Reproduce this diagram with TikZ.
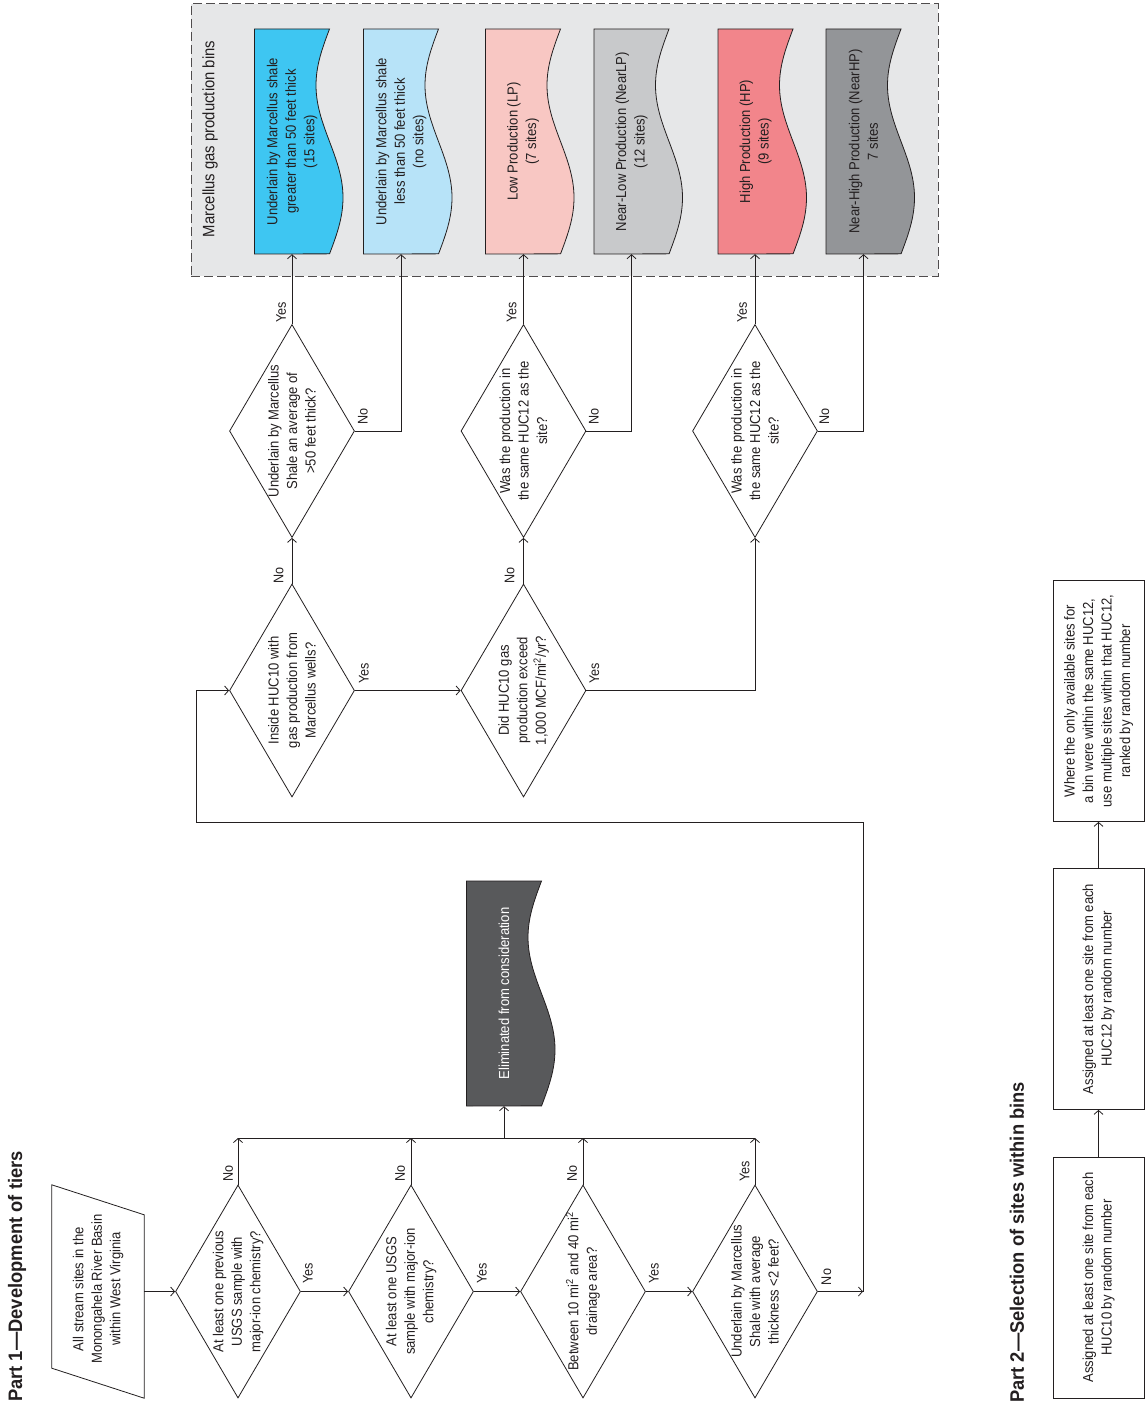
\documentclass[tikz,border=0pt]{standalone}
\usepackage{fontspec}
\setmainfont[FakeStretch=0.9]{Liberation Sans}
\newfontfamily\titlefont[FakeStretch=0.94]{Liberation Sans}
\usetikzlibrary{arrows.meta,shapes.geometric,calc}
\definecolor{ink}{HTML}{231F20}
\definecolor{panelgrey}{HTML}{E6E7E8}
\definecolor{cyanbin}{HTML}{3EC6F2}
\definecolor{lightbluebin}{HTML}{B7E3F8}
\definecolor{pinkbin}{HTML}{F8C7C3}
\definecolor{lgreybin}{HTML}{C8C9CB}
\definecolor{redbin}{HTML}{F2858B}
\definecolor{dgreybin}{HTML}{939598}
\definecolor{elimgrey}{HTML}{58595B}
\newcommand{\docshape}[3]{%
  \filldraw[shapeline, fill=#3] ({#1-37.5},{#2+112.5}) -- ({#1-37.5},{#2-112.5}) -- ({#1+37.5},{#2-112.5})
    -- plot[domain=0:1, samples=60] ({#1+37.5-13.5*sin(360*\x)},{#2-112.5+225*\x}) -- cycle;}
\tikzset{
  shapeline/.style={draw=ink, line width=0.8pt},
  conn/.style={draw=ink, line width=0.8pt},
  arr/.style={conn, -{Straight Barb[length=4pt,width=9pt]}},
  dia/.style={diamond, draw=ink, line width=0.8pt, minimum width=125pt, minimum height=213pt, inner sep=0pt},
  holder/.style={rectangle, draw=none, inner sep=0pt, minimum width=75pt, minimum height=225pt},
  txt/.style={rotate=90, align=center, inner sep=0pt, text=ink, font=\fontsize{14.5}{18.5}\selectfont},
  lbl/.style={rotate=90, inner sep=0pt, text=ink, font=\fontsize{14}{16}\selectfont},
  titletxt/.style={rotate=90, inner sep=0pt, anchor=west, text=ink, font=\titlefont\bfseries\fontsize{19.5}{22}\selectfont},
  pbox/.style={rectangle, draw=ink, line width=0.8pt, minimum width=91pt, minimum height=241pt, inner sep=0pt}
}
\begin{document}
\begin{tikzpicture}[x=1pt,y=-1pt]
\useasboundingbox (0,0) rectangle (1145,1410);
\fill[white] (0,0) rectangle (1145,1410);

% Titles
\node[titletxt] (title1) at (17,1402) {Part 1—Development of tiers};
\node[titletxt] (title2) at (1017,1403) {Part 2—Selection of sites within bins};

% Bins panel
\node[rectangle, draw=ink!80, fill=panelgrey, line width=1pt, dash pattern=on 9pt off 4pt,
      minimum width=747pt, minimum height=272pt, inner sep=0pt] (panel) at (564.5,140) {};
\node[txt, font=\fontsize{16.5}{20}\selectfont] (panellabel) at (210,139) {Marcellus gas production bins};

\docshape{292}{141.5}{cyanbin}
\docshape{401}{141.5}{lightbluebin}
\docshape{523}{141.5}{pinkbin}
\docshape{631.5}{141.5}{lgreybin}
\docshape{755.5}{141.5}{redbin}
\docshape{863.5}{141.5}{dgreybin}
\node[holder] (b1) at (292,141.5) {};
\node[holder] (b2) at (401,141.5) {};
\node[holder] (b3) at (523,141.5) {};
\node[holder] (b4) at (631.5,141.5) {};
\node[holder] (b5) at (755.5,141.5) {};
\node[holder] (b6) at (863.5,141.5) {};
\node[txt] (b1t) at (b1) {Underlain by Marcellus shale\\greater than 50 feet thick\\(15 sites)};
\node[txt] (b2t) at (b2) {Underlain by Marcellus shale\\less than 50 feet thick\\(no sites)};
\node[txt] (b3t) at (b3) {Low Production (LP)\\(7 sites)};
\node[txt] (b4t) at (b4) {Near-Low Production (NearLP)\\(12 sites)};
\node[txt] (b5t) at (b5) {High Production (HP)\\(9 sites)};
\node[txt] (b6t) at (b6) {Near-High Production (NearHP)\\7 sites};

% Eliminated
\docshape{504}{993.5}{elimgrey}
\node[holder] (el) at (504,993.5) {};
\node[txt, text=white] (elt) at (el) {Eliminated from consideration};

% Input
\node[rectangle, draw=none, minimum width=92pt, minimum height=213pt, inner sep=0pt] (inp) at (98,1291.5) {};
\draw[shapeline] (inp.north west) -- ([yshift=-30pt]inp.north east) -- (inp.south east) -- ([yshift=30pt]inp.south west) -- cycle;
\node[txt] (inpt) at (98,1289) {All stream sites in the\\Monongahela River Basin\\within West Virginia};

% Diamonds
\node[dia] (d1) at (238,1291.5) {};
\node[dia] (d2) at (411,1291.5) {};
\node[dia] (d3) at (583,1291.5) {};
\node[dia] (d4) at (755,1291.5) {};
\node[dia] (d5) at (292,690.5) {};
\node[dia] (d6) at (523.5,690.5) {};
\node[dia] (d7) at (292,431) {};
\node[dia] (d8) at (523.5,431) {};
\node[dia] (d9) at (755,431) {};
\node[txt] (d1t) at (d1) {At least one previous\\USGS sample with\\major-ion chemistry?};
\node[txt] (d2t) at (d2) {At least one USGS\\sample with major-ion\\chemistry?};
\node[txt] (d3t) at (d3) {Between 10 mi\textsuperscript{2} and 40 mi\textsuperscript{2}\\drainage area?};
\node[txt] (d4t) at (d4) {Underlain by Marcellus\\Shale with average\\thickness <2 feet?};
\node[txt] (d5t) at (d5) {Inside HUC10 with\\gas production from\\Marcellus wells?};
\node[txt] (d6t) at (d6) {Did HUC10 gas\\production exceed\\1,000 MCF/mi\textsuperscript{2}/yr?};
\node[txt] (d7t) at (d7) {Underlain by Marcellus\\Shale an average of\\>50 feet thick?};
\node[txt] (d8t) at (d8) {Was the production in\\the same HUC12 as the\\site?};
\node[txt] (d9t) at (d9) {Was the production in\\the same HUC12 as the\\site?};

% Part 2 boxes
\node[pbox] (pa) at (1098.5,1277.5) {};
\node[pbox] (pb) at (1098.5,989) {};
\node[pbox] (pc) at (1098.5,701) {};
\node[txt] (pat) at (pa) {Assigned at least one site from each\\HUC10 by random number};
\node[txt] (pbt) at (pb) {Assigned at least one site from each\\HUC12 by random number};
\node[txt] (pct) at (pc) {Where the only available sites for\\a bin were within the same HUC12,\\use multiple sites within that HUC12,\\ranked by random number};

% Coordinates
\coordinate (bus) at (504,1138);
\coordinate (loopR) at (863,822);
\coordinate (loopL) at (196,822);

% Connectors: lower row
\draw[arr] (inp.east) -- (d1.west);
\draw[arr] (d1.east) -- (d2.west);
\draw[arr] (d2.east) -- (d3.west);
\draw[arr] (d3.east) -- (d4.west);
\draw[conn] (d1.north |- bus) -- (d4.north |- bus);
\draw[arr] (d1.north) -- (d1.north |- bus);
\draw[arr] (d2.north) -- (d2.north |- bus);
\draw[arr] (d3.north) -- (d3.north |- bus);
\draw[arr] (d4.north) -- (d4.north |- bus);
\draw[arr] (bus) -- (el.south);
\draw[arr] (d4.east) -- (d4.east -| loopR);
\draw[arr] (d4.east -| loopR) -- (loopR) -- (loopL) |- (d5.west);

% Upper
\draw[arr] (d5.east) -- (d6.west);
\draw[arr] (d5.north) -- (d7.south);
\draw[arr] (d6.north) -- (d8.south);
\draw[arr] (d6.east) -| (d9.south);
\draw[arr] (d7.north) -- (d7.north |- b1.south);
\draw[arr] (d7.east) -| (b2.south);
\draw[arr] (d8.north) -- (d8.north |- b3.south);
\draw[arr] (d8.east) -| (b4.south);
\draw[arr] (d9.north) -- (d9.north |- b5.south);
\draw[arr] (d9.east) -| (b6.south);

% Part 2 connectors
\draw[arr] (pa.north) -- (pb.south);
\draw[arr] (pb.north) -- (pc.south);

% Labels
\node[lbl] (l1n) at ([shift={(-10pt,11.5pt)}]d1.north) {No};
\node[lbl] (l2n) at ([shift={(-11pt,11.5pt)}]d2.north) {No};
\node[lbl] (l3n) at ([shift={(-11pt,11.5pt)}]d3.north) {No};
\node[lbl] (l4y) at ([shift={(-10.5pt,13pt)}]d4.north) {Yes};
\node[lbl] (l1y) at ([shift={(7pt,18.5pt)}]d1.east) {Yes};
\node[lbl] (l2y) at ([shift={(8pt,18.5pt)}]d2.east) {Yes};
\node[lbl] (l3y) at ([shift={(8pt,18.5pt)}]d3.east) {Yes};
\node[lbl] (l4n) at ([shift={(8.5pt,14.5pt)}]d4.east) {No};
\node[lbl] (l5n) at ([shift={(-13.5pt,8.5pt)}]d5.north) {No};
\node[lbl] (l6n) at ([shift={(-14pt,8.5pt)}]d6.north) {No};
\node[lbl] (l5y) at ([shift={(9pt,17.5pt)}]d5.east) {Yes};
\node[lbl] (l6y) at ([shift={(8pt,17.5pt)}]d6.east) {Yes};
\node[lbl] (l7y) at ([shift={(-11pt,12pt)}]d7.north) {Yes};
\node[lbl] (l8y) at ([shift={(-12pt,12pt)}]d8.north) {Yes};
\node[lbl] (l9y) at ([shift={(-13pt,12pt)}]d9.north) {Yes};
\node[lbl] (l7n) at ([shift={(8pt,14.5pt)}]d7.east) {No};
\node[lbl] (l8n) at ([shift={(7.5pt,14.5pt)}]d8.east) {No};
\node[lbl] (l9n) at ([shift={(6.5pt,14.5pt)}]d9.east) {No};
\end{tikzpicture}
\end{document}
